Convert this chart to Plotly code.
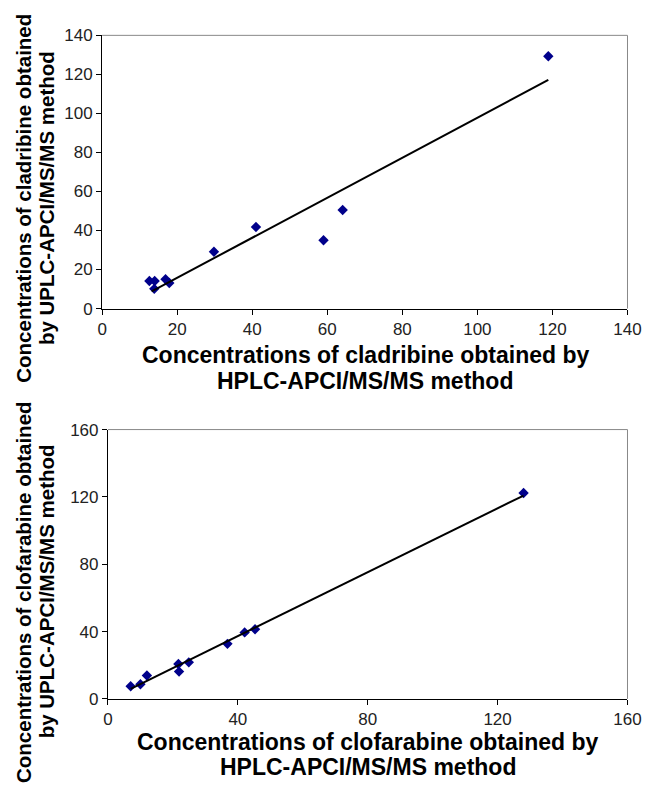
import plotly.graph_objects as go

# Top panel: cladribine
clad_x = [12.6, 14.0, 13.9, 16.9, 17.9, 29.8, 41.0, 59.0, 64.1, 118.9]
clad_y = [14.1, 14.1, 10.1, 15.0, 13.1, 29.1, 41.8, 35.0, 50.5, 129.3]
clad_fit_x = [13.2, 118.9]
clad_fit_y = [8.8, 117.2]
clad_ticks = [0, 20, 40, 60, 80, 100, 120, 140]

# Bottom panel: clofarabine
clof_x = [7.0, 10.0, 12.0, 21.7, 21.9, 24.9, 36.8, 42.1, 45.3, 128.0]
clof_y = [7.5, 8.7, 13.9, 20.7, 16.2, 21.7, 32.7, 39.5, 41.4, 122.3]
clof_fit_x = [7.0, 128.0]
clof_fit_y = [6.0, 120.8]
clof_ticks = [0, 40, 80, 120, 160]

W, H = 658, 785
FONT = "Liberation Sans, Arial, sans-serif"
MARK = "#00008B"

fig = go.Figure()
fig.add_trace(go.Scatter(x=clad_x, y=clad_y, mode="markers", xaxis="x", yaxis="y",
                         marker=dict(symbol="diamond", size=8, color=MARK), showlegend=False))
fig.add_trace(go.Scatter(x=clad_fit_x, y=clad_fit_y, mode="lines", xaxis="x", yaxis="y",
                         line=dict(color="black", width=2), showlegend=False))
fig.add_trace(go.Scatter(x=clof_x, y=clof_y, mode="markers", xaxis="x2", yaxis="y2",
                         marker=dict(symbol="diamond", size=8, color=MARK), showlegend=False))
fig.add_trace(go.Scatter(x=clof_fit_x, y=clof_fit_y, mode="lines", xaxis="x2", yaxis="y2",
                         line=dict(color="black", width=2), showlegend=False))

def ax(dom, rng, ticks, anchor):
    return dict(domain=dom, range=rng, tickvals=ticks, ticktext=[str(t) for t in ticks],
                showgrid=False, zeroline=False, showline=True, linecolor="black", linewidth=1,
                ticks="outside", ticklen=5, tickcolor="black", tickwidth=1,
                tickfont=dict(family=FONT, size=17, color="#222"), anchor=anchor)

top_y = [1 - 307 / H, 1 - 27 / H]
bot_y = [1 - 707 / H, 1 - 431 / H]
top_x = [100 / W, 641 / W]
bot_x = [106 / W, 641 / W]

fig.update_layout(
    width=W, height=H, margin=dict(l=0, r=0, t=0, b=0),
    paper_bgcolor="white", plot_bgcolor="white",
    xaxis=ax(top_x, [0, 140], clad_ticks, "y"),
    yaxis=ax(top_y, [0, 140], clad_ticks, "x"),
    xaxis2=ax(bot_x, [0, 160], clof_ticks, "y2"),
    yaxis2=ax(bot_y, [0, 160], clof_ticks, "x2"),
)

shapes = []
for xr, yr in (("x", "y"), ("x2", "y2")):
    xd, yd = xr + " domain", yr + " domain"
    shapes.append(dict(type="line", xref=xd, yref=yd, x0=0, x1=1, y0=1, y1=1,
                       line=dict(color="#888", width=1)))
    shapes.append(dict(type="line", xref=xd, yref=yd, x0=1, x1=1, y0=0, y1=1,
                       line=dict(color="#888", width=1)))
fig.update_layout(shapes=shapes)

xfont = dict(family=FONT, size=23, color="black")
yfont = dict(family=FONT, size=20.5, color="black")

def hline(text, cx, cy):
    return dict(text="<b>" + text + "</b>", x=cx / W, y=1 - cy / H, xref="paper", yref="paper",
                xanchor="center", yanchor="middle", showarrow=False, font=xfont)

def vline(text, cx, cy):
    return dict(text="<b>" + text + "</b>", x=cx / W, y=1 - cy / H, xref="paper", yref="paper",
                xanchor="center", yanchor="middle", showarrow=False, font=yfont, textangle=-90)

ann = [
    hline("Concentrations of cladribine obtained by", 371, 355),
    hline("HPLC-APCI/MS/MS method", 371, 381),
    vline("Concentrations of cladribine obtained", 19, 194),
    vline("by UPLC-APCI/MS/MS method", 43, 194),
    hline("Concentrations of clofarabine obtained by", 374, 751),
    hline("HPLC-APCI/MS/MS method", 374, 777),
    vline("Concentrations of clofarabine obtained", 19, 597),
    vline("by UPLC-APCI/MS/MS method", 43, 597),
]
fig.update_layout(annotations=ann)

fig.write_html("out.html")
